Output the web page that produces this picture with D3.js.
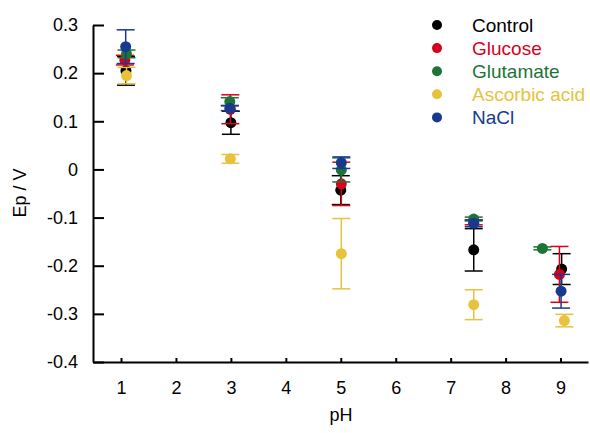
<!doctype html>
<meta charset="utf-8">
<title>Ep vs pH</title>
<script src="https://cdn.jsdelivr.net/npm/d3@7"></script>
<style>
  body { margin: 0; background: #fff; }
  text { font-family: "Liberation Sans", Arial, sans-serif; }
</style>
<body>
<script>
// series names + colours
var names  = ['Control', 'Glucose', 'Glutamate', 'Ascorbic acid', 'NaCl'];
var colors = ['#000000', '#d9001b', '#1d7436', '#e8c23c', '#173a8e'];

// pH where each series was measured (slightly off the integer ticks)
var phControl   = [1.09, 3.00, 5.00, 7.42, 9.02];
var phGlucose   = [1.07, 2.99, 5.01, 7.42, 8.98];
var phGlutamate = [1.10, 2.98, 5.01, 7.42, 8.67];
var phAscorbic  = [1.10, 2.99, 5.01, 7.42, 9.07];
var phNaCl      = [1.085, 2.98, 5.01, 7.42, 9.01];

// peak potential Ep (V) and error
var epControl   = [0.205, 0.097, -0.043, -0.167, -0.207];
var errControl  = [0.030, 0.024, 0.030, 0.044, 0.032];
var epGlucose   = [0.227, 0.125, -0.030, -0.110, -0.218];
var errGlucose  = [0.010, 0.030, 0.045, 0.005, 0.058];
var epGlutamate = [0.240, 0.141, -0.001, -0.103, -0.164];
var errGlutamate= [0.008, 0.008, 0.025, 0.004, 0.003];
var epAscorbic  = [0.195, 0.022, -0.175, -0.281, -0.314];
var errAscorbic = [0.017, 0.009, 0.073, 0.031, 0.013];
var epNaCl      = [0.255, 0.127, 0.014, -0.112, -0.253];
var errNaCl     = [0.035, 0.005, 0.012, 0.007, 0.035];

var xTicks = [1, 2, 3, 4, 5, 6, 7, 8, 9];
var yTicks = [-0.4, -0.3, -0.2, -0.1, 0, 0.1, 0.2, 0.3];

var width = 590, height = 433;

var phs  = [phControl, phGlucose, phGlutamate, phAscorbic, phNaCl];
var eps  = [epControl, epGlucose, epGlutamate, epAscorbic, epNaCl];
var errs = [errControl, errGlucose, errGlutamate, errAscorbic, errNaCl];

var series = names.map(function(n, i) {
  return {
    name: n, color: colors[i],
    pts: phs[i].map(function(p, j) { return { x: p, y: eps[i][j], e: errs[i][j] }; })
  };
});

var x = d3.scaleLinear().domain([0.49, 9.5]).range([93, 588]);
var y = d3.scaleLinear().domain([-0.4, 0.3]).range([362, 25]);

var svg = d3.select('body').append('svg')
  .attr('width', width)
  .attr('height', height);

// axes
var gx = svg.append('g')
  .attr('transform', 'translate(0,' + y(-0.4) + ')')
  .call(d3.axisBottom(x).tickValues(xTicks).tickSizeInner(-4).tickSizeOuter(0).tickPadding(19));

var gy = svg.append('g')
  .attr('transform', 'translate(' + x(0.49) + ',0)')
  .call(d3.axisLeft(y).tickValues(yTicks).tickSizeInner(-11).tickSizeOuter(0).tickPadding(15)
    .tickFormat(function(d) { return String(+d.toFixed(1)); }));

[gx, gy].forEach(function(g) {
  g.select('.domain').attr('stroke-width', 2).attr('stroke', '#000');
  g.selectAll('.tick line').attr('stroke-width', 2).attr('stroke', '#000');
  g.selectAll('.tick text').attr('font-size', 18).attr('fill', '#000')
    .style('font-family', '"Liberation Sans", Arial, sans-serif');
});

svg.append('text')
  .attr('x', 341).attr('y', 421)
  .attr('text-anchor', 'middle')
  .attr('font-size', 18)
  .text('pH');

svg.append('text')
  .attr('transform', 'translate(20,193) rotate(-90)')
  .attr('text-anchor', 'middle')
  .attr('dy', '0.35em')
  .attr('font-size', 18)
  .text('Ep / V');

// points with error bars, series drawn in order so later ones sit on top
var cap = 9;
series.forEach(function(s) {
  var g = svg.append('g');
  var eb = g.selectAll('g.eb').data(s.pts).enter().append('g')
    .attr('stroke', s.color).attr('stroke-width', 1.5);
  eb.append('line')
    .attr('x1', function(d) { return x(d.x); }).attr('x2', function(d) { return x(d.x); })
    .attr('y1', function(d) { return y(d.y + d.e); }).attr('y2', function(d) { return y(d.y - d.e); });
  eb.append('line')
    .attr('x1', function(d) { return x(d.x) - cap; }).attr('x2', function(d) { return x(d.x) + cap; })
    .attr('y1', function(d) { return y(d.y + d.e); }).attr('y2', function(d) { return y(d.y + d.e); });
  eb.append('line')
    .attr('x1', function(d) { return x(d.x) - cap; }).attr('x2', function(d) { return x(d.x) + cap; })
    .attr('y1', function(d) { return y(d.y - d.e); }).attr('y2', function(d) { return y(d.y - d.e); });
  g.selectAll('circle').data(s.pts).enter().append('circle')
    .attr('cx', function(d) { return x(d.x); })
    .attr('cy', function(d) { return y(d.y); })
    .attr('r', 5.5)
    .attr('fill', s.color);
});

// legend
var lg = svg.append('g').selectAll('g').data(series).enter().append('g')
  .attr('transform', function(d, i) { return 'translate(437,' + (25 + i * 23.1) + ')'; });
lg.append('circle').attr('r', 5).attr('fill', function(d) { return d.color; });
lg.append('text')
  .attr('x', 35).attr('dy', '0.35em')
  .attr('font-size', 19)
  .attr('fill', function(d) { return d.color; })
  .text(function(d) { return d.name; });
</script>
</body>
